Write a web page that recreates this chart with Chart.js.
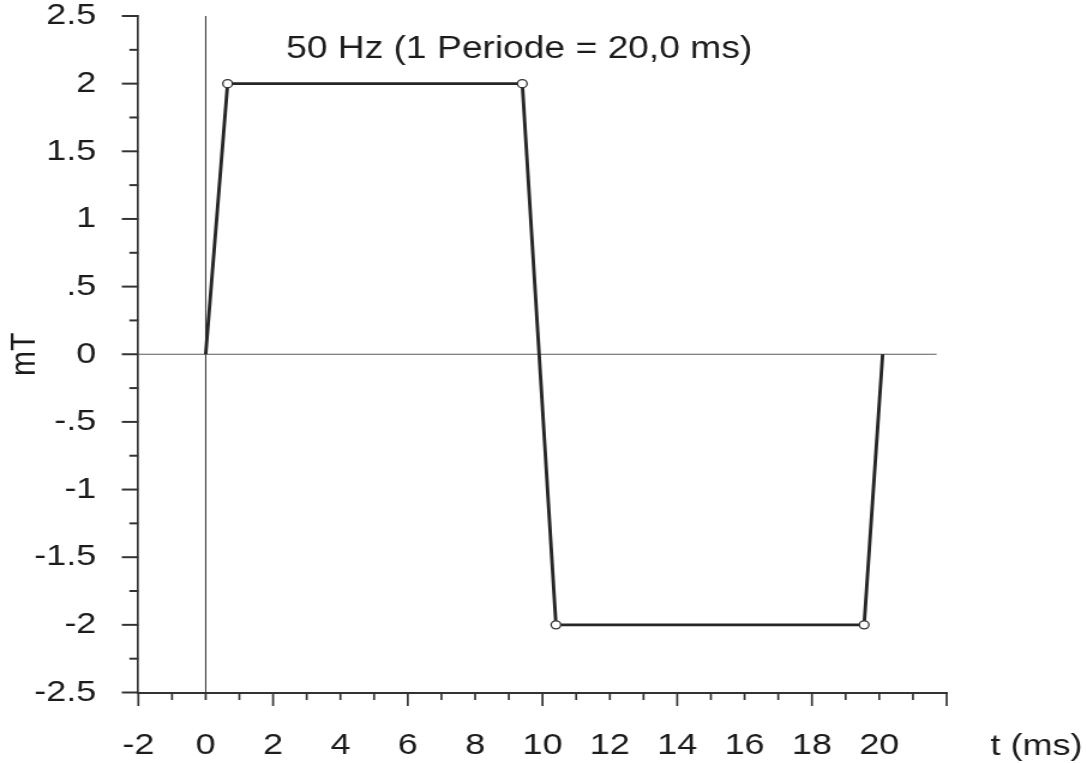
<!DOCTYPE html>
<html>
<head>
<meta charset="utf-8">
<script src="https://cdn.jsdelivr.net/npm/chart.js@4/dist/chart.umd.min.js"></script>
<style>
  html, body { margin: 0; padding: 0; background: #ffffff; overflow: hidden; }
  #wrap { width: 906px; height: 763px; transform: scaleX(1.19978); transform-origin: 0 0; }
</style>
</head>
<body>
<div id="wrap"><canvas id="c"></canvas></div>
<script>
// ---- data ----
const timeMs = [0, 0.65, 9.4, 10.4, 19.55, 20.1];
const fluxMT = [0, 2, 2, -2, -2, 0];
const xTickValues = [-2, 0, 2, 4, 6, 8, 10, 12, 14, 16, 18, 20];
const xTickLabels = ['-2', '0', '2', '4', '6', '8', '10', '12', '14', '16', '18', '20'];
const yTickValues = [2.5, 2, 1.5, 1, 0.5, 0, -0.5, -1, -1.5, -2, -2.5];
const yTickLabels = ['2.5', '2', '1.5', '1', '.5', '0', '-.5', '-1', '-1.5', '-2', '-2.5'];
const chartTitle = '50 Hz (1 Periode = 20,0 ms)';
const xTitle = 't (ms)';
const yTitle = 'mT';
const xMin = -2, xMax = 22, yMin = -2.5, yMax = 2.5;
const zeroLineEnd = 21.7;

const FONT = '"Liberation Sans", Arial, sans-serif';
const INK = '#1c1c1c';

function lookup(values, labels, v) {
  for (let i = 0; i < values.length; i++) {
    if (Math.abs(values[i] - v) < 1e-6) return labels[i];
  }
  return '';
}

const refLines = {
  id: 'refLines',
  beforeDatasetsDraw(chart) {
    const {ctx, scales: {x, y}} = chart;
    ctx.save();
    ctx.strokeStyle = '#5a5a5a';
    ctx.lineWidth = 1.1;
    ctx.beginPath();
    const y0 = y.getPixelForValue(0);
    ctx.moveTo(x.left, y0);
    ctx.lineTo(x.getPixelForValue(zeroLineEnd), y0);
    ctx.stroke();
    ctx.strokeStyle = '#333333';
    ctx.lineWidth = 1;
    const x0 = x.getPixelForValue(0);
    ctx.beginPath();
    ctx.moveTo(x0, y.top);
    ctx.lineTo(x0, y.bottom);
    ctx.stroke();
    ctx.restore();
  }
};

const tickMarks = {
  id: 'tickMarks',
  afterDraw(chart) {
    const {ctx, scales: {x, y}} = chart;
    ctx.save();
    ctx.strokeStyle = '#333333';
    ctx.lineCap = 'butt';
    ctx.lineWidth = 2;
    y.ticks.forEach(t => {
      const v = t.value;
      const major = Math.abs(v * 2 - Math.round(v * 2)) < 1e-6;
      const len = major ? 13.8 : 7.5;
      const py = y.getPixelForValue(v);
      ctx.beginPath();
      ctx.moveTo(x.left - len, py);
      ctx.lineTo(x.left, py);
      ctx.stroke();
    });
    ctx.lineWidth = 1.7;
    x.ticks.forEach(t => {
      const v = t.value;
      const major = Math.abs(((v - xMin) % 4)) < 1e-6;
      const len = major ? 13.5 : 7.5;
      const px = x.getPixelForValue(v);
      ctx.beginPath();
      ctx.moveTo(px, y.bottom);
      ctx.lineTo(px, y.bottom + len);
      ctx.stroke();
    });
    ctx.fillStyle = INK;
    ctx.font = '31px ' + FONT;
    ctx.textAlign = 'center';
    ctx.textBaseline = 'alphabetic';
    ctx.fillText(chartTitle, 432.7, 58.3);
    ctx.font = '30px ' + FONT;
    ctx.fillText(xTitle, 863.9, 755);
    ctx.restore();
  }
};

const points = timeMs.map((t, i) => ({x: t, y: fluxMT[i]}));

new Chart(document.getElementById('c'), {
  type: 'scatter',
  data: {
    datasets: [{
      data: points,
      showLine: true,
      borderColor: '#262626',
      borderWidth: 2.9,
      tension: 0,
      pointRadius: c => (c.dataIndex === 0 || c.dataIndex === points.length - 1) ? 0 : 4,
      pointBackgroundColor: '#ffffff',
      pointBorderColor: '#333333',
      pointBorderWidth: 1.3,
      clip: false
    }]
  },
  options: {
    responsive: true,
    maintainAspectRatio: false,
    animation: false,
    layout: { padding: { top: 16, right: 117, left: 0, bottom: 0 } },
    plugins: {
      legend: { display: false },
      title: { display: false },
      tooltip: { enabled: false }
    },
    scales: {
      x: {
        type: 'linear',
        min: xMin, max: xMax,
        grid: { display: false, drawTicks: true, tickLength: 38 },
        border: { display: true, color: '#333333', width: 2 },
        ticks: {
          stepSize: 1,
          autoSkip: false,
          maxRotation: 0,
          padding: 0,
          color: INK,
          font: { family: FONT, size: 30, lineHeight: 1 },
          callback: v => lookup(xTickValues, xTickLabels, v)
        },
        afterFit: s => { s.height = 70.5; }
      },
      y: {
        type: 'linear',
        min: yMin, max: yMax,
        grid: { display: false, drawTicks: true, tickLength: 35 },
        border: { display: true, color: '#333333', width: 1.7 },
        ticks: {
          stepSize: 0.25,
          autoSkip: false,
          padding: 0,
          color: INK,
          font: { family: FONT, size: 30, lineHeight: 1 },
          callback: v => lookup(yTickValues, yTickLabels, v)
        },
        title: {
          display: true,
          text: yTitle,
          color: INK,
          font: { family: FONT, size: 30, lineHeight: 1 },
          padding: { top: 6, bottom: 0 }
        },
        afterFit: s => { s.width = 115.3; }
      }
    }
  },
  plugins: [refLines, tickMarks]
});
</script>
</body>
</html>
